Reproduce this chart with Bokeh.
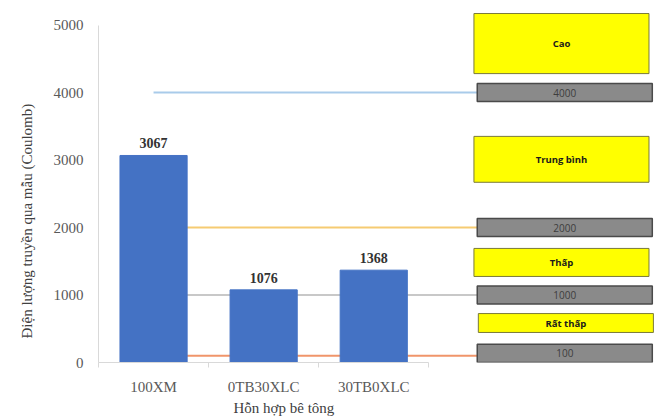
from bokeh.plotting import figure
from bokeh.models import Range1d, FixedTicker, Title
from bokeh.core.properties import value
from bokeh.embed import file_html
from bokeh.resources import INLINE

# Chloride-ion penetration (charge passed) per concrete mix
mixes = ["100XM", "0TB30XLC", "30TB0XLC"]
charge = [3067, 1076, 1368]

# Classification thresholds and their line colours
thresholds = [4000, 2000, 1000, 100]
threshold_labels = ["4000", "2000", "1000", "100"]
threshold_colors = ["#a9cbea", "#f6cb72", "#c8c8c8", "#f0956a"]

# Penetrability levels (text boxes on the right)
levels = ["Cao", "Trung bình", "Thấp", "Rất thấp"]

y_title = "Điện lượng truyền qua mẫu (Coulomb)"
x_title = "Hỗn hợp bê tông"

SERIF = "Liberation Serif"
SANS = "Open Sans"

p = figure(width=654, height=420,
           x_range=Range1d(0, 5.05), y_range=Range1d(0, 5200),
           output_backend="svg", toolbar_location=None,
           min_border_left=98, min_border_right=0,
           min_border_top=11, min_border_bottom=58)
p.outline_line_color = None
p.xgrid.visible = False
p.ygrid.visible = False
p.background_fill_color = "white"
p.border_fill_color = "white"

# y axis
ya = p.yaxis[0]
ya.ticker = FixedTicker(ticks=[0, 1000, 2000, 3000, 4000, 5000])
ya.bounds = (0, 5000)
ya.axis_line_color = "#d9d9d9"
ya.major_tick_line_color = None
ya.minor_tick_line_color = None
ya.major_tick_out = 0
ya.major_tick_in = 0
ya.major_label_standoff = 15
ya.major_label_text_font = SERIF
ya.major_label_text_font_size = "15px"
ya.major_label_text_color = "#595959"

# x axis with category labels at bar centres
xs = [i + 0.5 for i in range(len(mixes))]
xa = p.xaxis[0]
xa.ticker = FixedTicker(ticks=xs, minor_ticks=list(range(len(mixes) + 1)))
xa.major_label_overrides = {x: m for x, m in zip(xs, mixes)}
xa.bounds = (0, len(mixes))
xa.axis_line_color = "#d9d9d9"
xa.major_tick_line_color = None
xa.major_tick_out = 0
xa.major_tick_in = 0
xa.minor_tick_line_color = "#d9d9d9"
xa.minor_tick_out = 5
xa.minor_tick_in = 0
xa.major_label_standoff = 11
xa.major_label_text_font = SERIF
xa.major_label_text_font_size = "15px"
xa.major_label_text_color = "#595959"

# threshold lines, running from the first mix to the boxes
box_left, box_right = 3.44, 5.03
p.segment(x0=[xs[0]] * len(thresholds), x1=[box_left + 0.05] * len(thresholds),
          y0=thresholds, y1=thresholds, line_color=threshold_colors, line_width=2)

# bars and their value labels
p.vbar(x=xs, top=charge, width=0.61, fill_color="#4472c4", line_color="#4472c4")
p.text(x=xs, y=charge, text=[str(v) for v in charge], y_offset=-7,
       text_align="center", text_baseline="bottom",
       text_font=value(SERIF), text_font_size="14px", text_font_style="bold",
       text_color="#333333")

# grey threshold boxes
half = 135
g_bottom = [max(t - half, 0) for t in thresholds]
g_top = [b + 2 * half for b in g_bottom]
p.quad(left=box_left, right=box_right, bottom=g_bottom, top=g_top,
       fill_color="#8a8a8a", line_color="#4a4a4a", line_width=1.5)
p.text(x=[(box_left + box_right) / 2] * len(thresholds),
       y=[(b + t) / 2 for b, t in zip(g_bottom, g_top)],
       text=threshold_labels, text_align="center", text_baseline="middle",
       text_font=value(SANS), text_font_size="10px", text_color="#3d3d3d")

# yellow level boxes, placed between the thresholds
lvl_bottom = [4280, 2670, 1275, 445]
lvl_top = [5170, 3350, 1690, 725]
lvl_left = [3.41, 3.41, 3.41, 3.45]
lvl_right = [5.0, 5.0, 5.0, 5.04]
p.quad(left=lvl_left, right=lvl_right, bottom=lvl_bottom, top=lvl_top,
       fill_color="#ffff00", line_color="#7a7a3a", line_width=1)
p.text(x=[(l + r) / 2 for l, r in zip(lvl_left, lvl_right)],
       y=[(b + t) / 2 for b, t in zip(lvl_bottom, lvl_top)],
       text=levels, text_align="center", text_baseline="middle",
       text_font=value(SANS), text_font_size="9.5px", text_font_style="bold",
       text_color="#1a1a1a")

# axis titles
p.add_layout(Title(text=x_title, align="left", offset=135, standoff=0,
                   text_font=SERIF, text_font_size="15px",
                   text_font_style="normal", text_color="#404040"), "below")
p.add_layout(Title(text=y_title, align="left", offset=24, standoff=31,
                   text_font=SERIF, text_font_size="15px",
                   text_font_style="normal", text_color="#404040"), "left")

open("out.html", "w").write(file_html(p, INLINE))
